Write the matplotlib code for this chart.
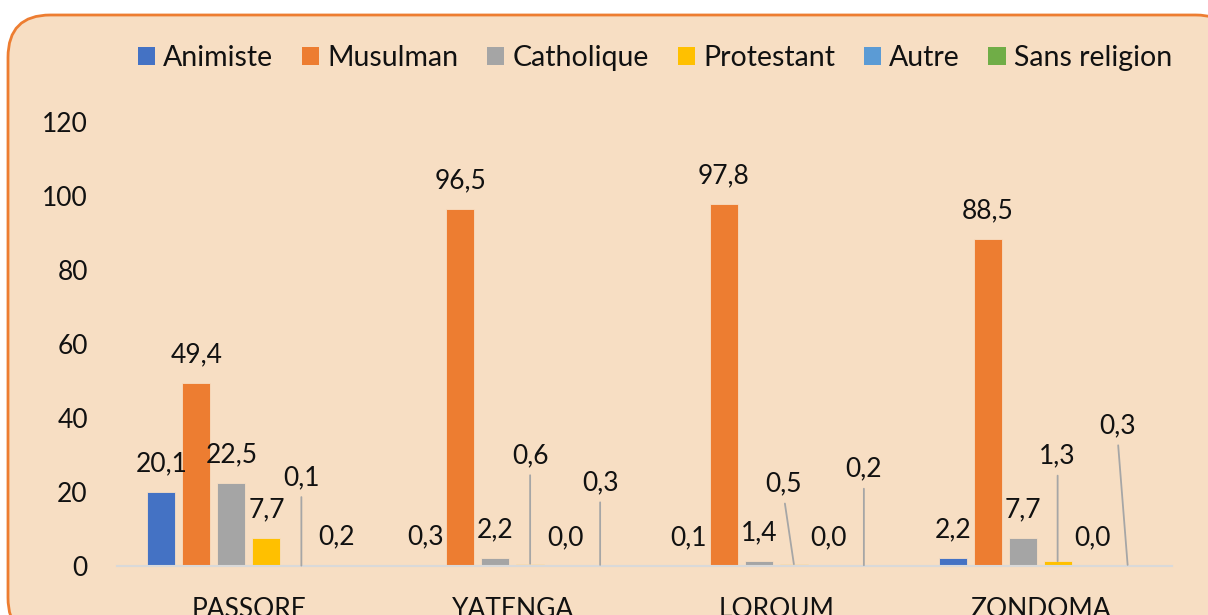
import matplotlib
matplotlib.use("Agg")
import matplotlib.pyplot as plt
from matplotlib.patches import FancyBboxPatch, Patch
import numpy as np

categories = ["PASSORE", "YATENGA", "LOROUM", "ZONDOMA"]
series_names = ["Animiste", "Musulman", "Catholique", "Protestant", "Autre", "Sans religion"]
animiste = [20.1, 0.3, 0.1, 2.2]
musulman = [49.4, 96.5, 97.8, 88.5]
catholique = [22.5, 2.2, 1.4, 7.7]
protestant = [7.7, 0.6, 0.5, 1.3]
autre = [0.1, 0.0, 0.0, 0.0]
sans_religion = [0.2, 0.3, 0.2, 0.3]
y_ticks = [0, 20, 40, 60, 80, 100, 120]

series_values = [animiste, musulman, catholique, protestant, autre, sans_religion]
colors = ["#4472C4", "#ED7D31", "#A5A5A5", "#FFC000", "#5B9BD5", "#70AD47"]

# manually dragged labels with leader lines: (series, group) -> (dx px, dy px)
leader = {(4, 0): (0, 90), (3, 1): (0, 110), (5, 1): (0, 84), (3, 2): (-10, 82),
          (5, 2): (0, 98), (3, 3): (0, 107), (5, 3): (-10, 141)}

FONT = "Lato"
FS = 19
BG = "#F7DEC3"

W, H = 1208, 615
fig = plt.figure(figsize=(W / 100, H / 100), dpi=100, facecolor="white")

# rounded background box
box = FancyBboxPatch((8 / W, (H - 640) / H), 1230 / W, 625 / H,
                     boxstyle="round,pad=0,rounding_size=0.035",
                     transform=fig.transFigure, facecolor=BG, edgecolor="#ED7D31",
                     linewidth=2, mutation_aspect=W / H, zorder=-10)
fig.patches.append(box)

ax = fig.add_axes([117 / W, 1 - 566 / H, (1172 - 117) / W, (566 - 122) / H])
ax.set_zorder(5)
ax.set_facecolor("none")
ax.patch.set_alpha(0)
ax.set_xlim(-0.5, len(categories) - 0.5)
ax.set_ylim(0, 120)

x = np.arange(len(categories))
pitch = 35 / 263.75
width = 28 / 263.75
n = len(series_values)
for i, (vals, c) in enumerate(zip(series_values, colors)):
    xs = x + (i - (n - 1) / 2) * pitch
    ax.bar(xs, vals, width=width, color=c, edgecolor=BG, linewidth=0.6, zorder=3)
    for j, v in enumerate(vals):
        txt = f"{v:.1f}".replace(".", ",")
        if (i, j) in leader:
            dx, dy = leader[(i, j)]
            ax.annotate(txt, xy=(xs[j], v), xytext=(dx, dy - 9.5), textcoords="offset pixels",
                        ha="center", va="baseline", fontsize=FS, family=FONT, color="#111111",
                        arrowprops=dict(arrowstyle="-", color="#A6A6A6", lw=1.3,
                                        shrinkA=3, shrinkB=0, relpos=(0.5, 0)), zorder=5)
        else:
            ax.annotate(txt, xy=(xs[j], v), xytext=(0, 30 - 9.5), textcoords="offset pixels",
                        ha="center", va="baseline", fontsize=FS, family=FONT, color="#111111",
                        zorder=5)

for s in ["top", "right", "left"]:
    ax.spines[s].set_visible(False)
ax.spines["bottom"].set_color("#D9D9D9")
ax.spines["bottom"].set_linewidth(1.5)
ax.spines["bottom"].set_zorder(4)

ax.set_yticks(y_ticks)
ax.set_yticklabels([str(t) for t in y_ticks], fontsize=FS, family=FONT, color="#111111")
ax.set_xticks(x)
ax.set_xticklabels(categories, fontsize=FS, family=FONT, color="#111111")
ax.tick_params(axis="y", length=0, pad=21)
ax.tick_params(axis="x", length=0, pad=22)

handles = [Patch(facecolor=c, edgecolor="none", label=l) for c, l in zip(colors, series_names)]
leg = fig.legend(handles=handles, loc="center", bbox_to_anchor=(655 / W, 1 - 58 / H), ncol=6,
                 frameon=False, prop={"family": FONT, "size": 20.5}, handlelength=0.6,
                 handleheight=0.6, handletextpad=0.3, columnspacing=1.0)
for t in leg.get_texts():
    t.set_color("#111111")

fig.savefig("out.png", dpi=100, facecolor="white")
